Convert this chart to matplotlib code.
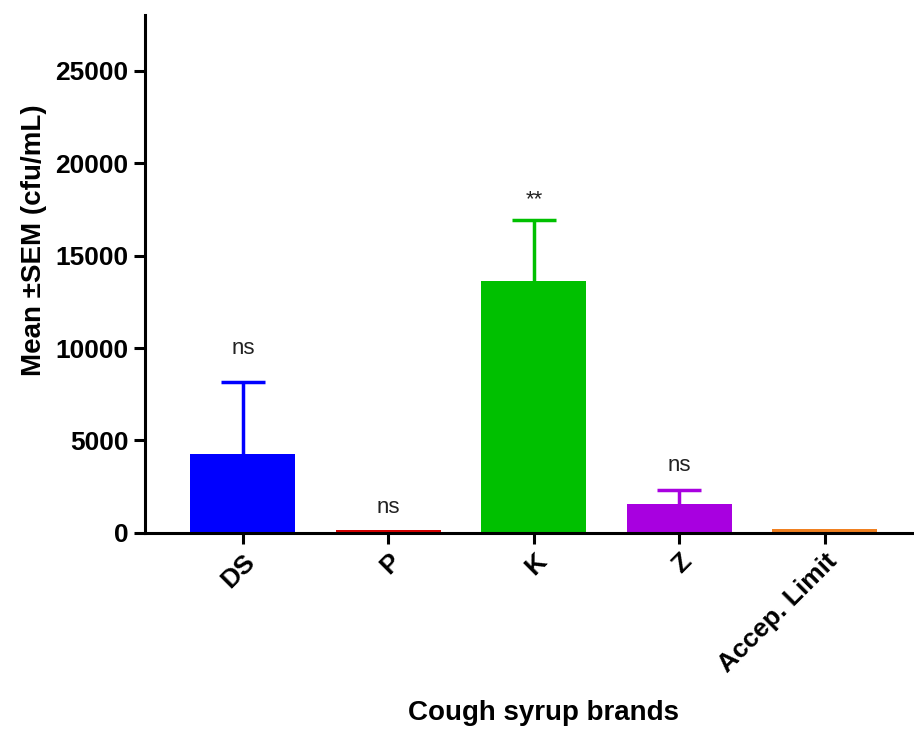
import matplotlib.pyplot as plt

plt.rcParams["font.family"] = ["Liberation Sans", "DejaVu Sans"]

brands = ["DS", "P", "K", "Z", "Accep. Limit"]
means = [4250, 160, 13650, 1580, 200]
sems = [3940, 0, 3270, 720, 0]
colors = ["#0000ff", "#d40000", "#00c000", "#a800e0", "#f08020"]
sig_labels = ["ns", "ns", "**", "ns", ""]
sig_y = [10000, 1350, 18000, 3650, 0]

fig = plt.figure(figsize=(9.14, 7.29), dpi=100)
ax = fig.add_axes([0.159, 0.269, 0.839, 0.71])

x = range(len(brands))
ax.bar(x, means, width=0.72, color=colors, zorder=2)
for i in x:
    if sems[i] > 0:
        _, caps, _ = ax.errorbar(i, means[i], yerr=[[0], [sems[i]]], fmt="none",
                                 ecolor=colors[i], elinewidth=2.5, capsize=16,
                                 capthick=2.5, zorder=1)
        caps[0].set_visible(False)
    if sig_labels[i]:
        ax.text(i, sig_y[i], sig_labels[i], ha="center", va="center",
                fontsize=16, color="#222222")

ax.set_xlim(-0.67, 4.6)
ax.set_ylim(0, 28000)
ax.set_yticks([0, 5000, 10000, 15000, 20000, 25000])
ax.set_xticks(list(x))
ax.set_xticklabels(brands, rotation=45, ha="right", rotation_mode="anchor",
                   fontsize=19, fontweight="bold")
for lab in ax.get_yticklabels():
    lab.set_fontsize(19)
    lab.set_fontweight("bold")

for side in ["top", "right"]:
    ax.spines[side].set_visible(False)
for side in ["left", "bottom"]:
    ax.spines[side].set_linewidth(2.2)
ax.tick_params(width=2.2, length=8, pad=4)

ax.set_ylabel("Mean \u00b1SEM (cfu/mL)", fontsize=20, fontweight="bold")
ax.yaxis.set_label_coords(-0.128, 0.566)
fig.text(0.595, 0.004, "Cough syrup brands", ha="center", va="bottom",
         fontsize=20, fontweight="bold")

fig.savefig("out.png", dpi=100)
